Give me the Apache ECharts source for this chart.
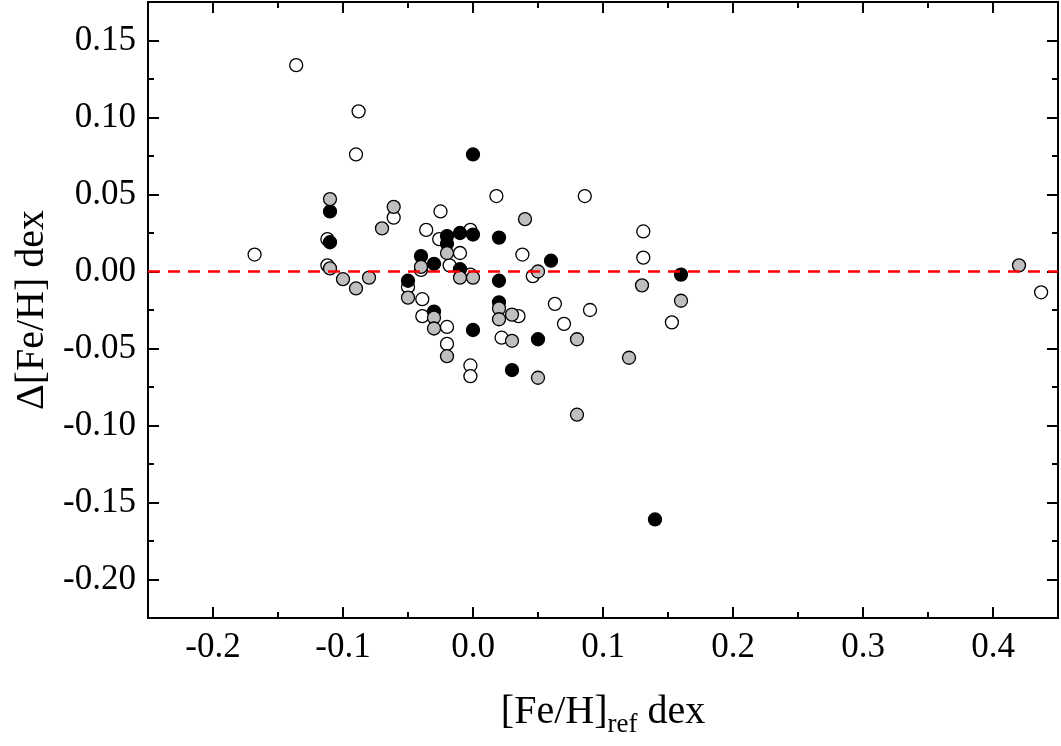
<!DOCTYPE html>
<html>
<head>
<meta charset="utf-8">
<script src="https://cdn.jsdelivr.net/npm/echarts@6/dist/echarts.min.js"></script>
<style>
html,body{margin:0;padding:0;background:#fff;}
#chart{width:1061px;height:746px;}
</style>
</head>
<body>
<div id="chart"></div>
<script>
// Open (white) symbols: [ [Fe/H]_ref, Δ[Fe/H] ]
var openPoints = [
  [-0.168,0.011],[-0.136,0.134],[-0.088,0.104],[-0.090,0.076],[-0.112,0.021],
  [-0.112,0.004],[-0.061,0.035],[-0.036,0.027],[-0.025,0.039],[-0.026,0.021],
  [-0.002,0.027],[-0.010,0.012],[0.018,0.049],[0.038,0.011],[-0.040,0.001],
  [-0.018,0.004],[-0.002,-0.002],[0.046,-0.003],[-0.050,-0.010],[-0.039,-0.018],
  [-0.039,-0.029],[-0.020,-0.036],[-0.020,-0.047],[-0.002,-0.061],[-0.002,-0.068],
  [0.022,-0.043],[0.035,-0.029],[0.063,-0.021],[0.070,-0.034],[0.090,-0.025],
  [0.086,0.049],[0.131,0.026],[0.131,0.009],[0.153,-0.033],[0.437,-0.0135]
];
// Black symbols
var blackPoints = [
  [-0.110,0.039],[-0.110,0.019],[-0.040,0.010],[-0.030,0.005],[-0.050,-0.006],
  [-0.020,0.023],[-0.020,0.018],[-0.010,0.025],[0.000,0.024],[0.000,0.076],
  [0.020,0.022],[0.060,0.007],[-0.010,0.0015],[0.020,-0.006],[0.020,-0.020],
  [-0.030,-0.026],[0.000,-0.038],[0.050,-0.044],[0.030,-0.064],[0.160,-0.002],
  [0.140,-0.161]
];
// Grey symbols
var greyPoints = [
  [-0.110,0.047],[-0.110,0.002],[-0.100,-0.005],[-0.090,-0.011],[-0.080,-0.004],
  [-0.070,0.028],[-0.061,0.042],[-0.040,0.003],[-0.020,0.012],[-0.010,-0.004],
  [0.000,-0.004],[0.040,0.034],[0.050,0.000],[-0.050,-0.017],[-0.030,-0.030],
  [-0.030,-0.037],[-0.020,-0.055],[0.020,-0.024],[0.020,-0.031],[0.030,-0.028],
  [0.030,-0.045],[0.050,-0.069],[0.080,-0.044],[0.080,-0.093],[0.120,-0.056],
  [0.130,-0.009],[0.160,-0.019],[0.420,0.004]
];
// Axis tick values
var xMajorTicks = [-0.2,-0.1,0.0,0.1,0.2,0.3,0.4];
var xMinorTicks = [-0.15,-0.05,0.05,0.15,0.25,0.35];
var yMajorTicks = [-0.20,-0.15,-0.10,-0.05,0.00,0.05,0.10,0.15];
var yMinorTicks = [-0.175,-0.125,-0.075,-0.025,0.025,0.075,0.125];
var xRange = [-0.25,0.45];
var yRange = [-0.225,0.175];
var referenceLevel = 0;

var FONT = '"Liberation Serif","DejaVu Serif",serif';
var chart = echarts.init(document.getElementById('chart'));

function xAx(pos, ticks, len, showLine, showLabel, extra) {
  var a = {
    type:'value', gridIndex:0, position:pos, min:xRange[0], max:xRange[1],
    axisLine:{show:showLine, onZero:false, lineStyle:{color:'#000', width:2}},
    axisTick:{show:true, inside:true, length:len, customValues:ticks, lineStyle:{color:'#000', width:2}},
    axisLabel:{show:showLabel, customValues:ticks, margin:12, fontSize:35, fontFamily:FONT, color:'#000',
      formatter:function(v){ return v.toFixed(1); }},
    splitLine:{show:false}
  };
  return Object.assign(a, extra||{});
}
function yAx(pos, ticks, len, showLine, showLabel, extra) {
  var a = {
    type:'value', gridIndex:0, position:pos, min:yRange[0], max:yRange[1],
    axisLine:{show:showLine, onZero:false, lineStyle:{color:'#000', width:2}},
    axisTick:{show:true, inside:true, length:len, customValues:ticks, lineStyle:{color:'#000', width:2}},
    axisLabel:{show:showLabel, customValues:ticks, margin:12, fontSize:35, fontFamily:FONT, color:'#000',
      formatter:function(v){ return v.toFixed(2); }},
    splitLine:{show:false}
  };
  return Object.assign(a, extra||{});
}

function scatter(name, data, color, z) {
  return {
    name:name, type:'scatter', xAxisIndex:0, yAxisIndex:0, data:data, z:z,
    symbol:'circle', symbolSize:13,
    itemStyle:{color:color, borderColor:'#000', borderWidth:1.3, opacity:1},
    emphasis:{disabled:true}
  };
}

chart.setOption({
  backgroundColor:'#fff',
  animation:false,
  grid:{left:148, right:3, top:2, bottom:128},
  xAxis:[
    xAx('bottom', xMajorTicks, 11, true, true, {
      name:'{a|[Fe/H]}{s|ref}{a| dex}', nameLocation:'middle', nameGap:74,
      nameTextStyle:{rich:{
        a:{fontSize:40, fontFamily:FONT, color:'#000', lineHeight:46, verticalAlign:'top'},
        s:{fontSize:27, fontFamily:FONT, color:'#000', verticalAlign:'bottom', lineHeight:10}
      }}
    }),
    xAx('bottom', xMinorTicks, 6, false, false),
    xAx('top', xMajorTicks, 11, true, false),
    xAx('top', xMinorTicks, 6, false, false)
  ],
  yAxis:[
    yAx('left', yMajorTicks, 11, true, true, {
      name:'Δ[Fe/H] dex', nameLocation:'middle', nameGap:95, nameRotate:90,
      nameTextStyle:{fontSize:40, fontFamily:FONT, color:'#000'}
    }),
    yAx('left', yMinorTicks, 6, false, false),
    yAx('right', yMajorTicks, 11, true, false),
    yAx('right', yMinorTicks, 6, false, false)
  ],
  series:[
    {
      type:'line', xAxisIndex:0, yAxisIndex:0, data:[], z:1, silent:true,
      markLine:{
        silent:true, symbol:['none','none'], label:{show:false},
        lineStyle:{color:'#ff0000', width:2.5, type:[12,8]},
        data:[{yAxis:referenceLevel}]
      }
    },
    scatter('open', openPoints, '#ffffff', 2),
    scatter('black', blackPoints, '#000000', 3),
    scatter('grey', greyPoints, '#bfbfbf', 4)
  ]
});
</script>
</body>
</html>
